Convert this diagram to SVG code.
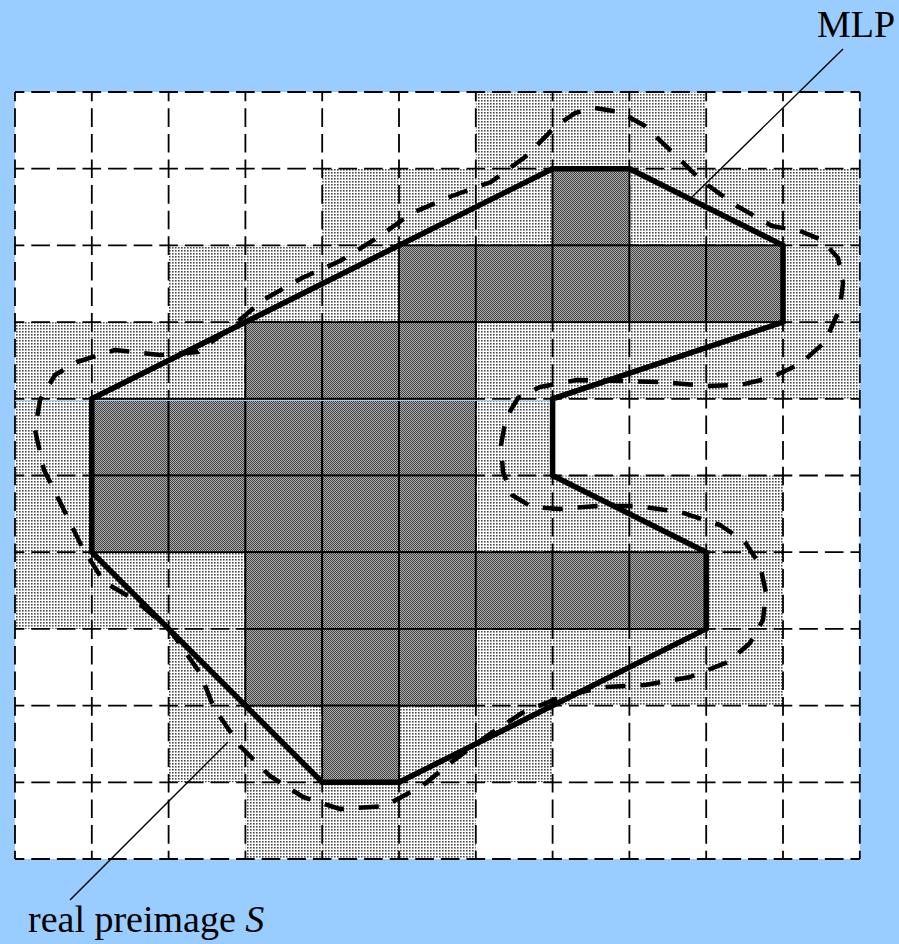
<svg xmlns="http://www.w3.org/2000/svg" width="899" height="944" viewBox="0 0 899 944">
<defs>
<pattern id="lt" width="3" height="3" patternUnits="userSpaceOnUse"><rect width="3" height="3" fill="#ffffff"/><rect x="1" y="1" width="1.6" height="1.6" fill="#4a4a4a"/></pattern>
<pattern id="dk" width="2" height="2" patternUnits="userSpaceOnUse"><rect width="2" height="2" fill="#b0b0b0"/><rect width="1" height="1" fill="#404040"/><rect x="1" y="1" width="1" height="1" fill="#404040"/></pattern>
<style>
.l{fill:url(#lt);stroke:none}
.d{fill:url(#dk);stroke:#000;stroke-width:1.8}
.g line{stroke:#000;stroke-width:1.8;stroke-dasharray:18.6 7;stroke-dashoffset:9.3}
.lbl{font-family:"Liberation Serif","Times New Roman",serif;font-size:38px;fill:#000}
.lead{stroke:#000;stroke-width:1.4;fill:none}
</style>
</defs>
<rect width="899" height="944" fill="#99ccff"/>
<rect x="15" y="92" width="844.8" height="767" fill="#ffffff"/>
<g id="light-cells">
<rect class="l" x="475.8" y="92" width="230.4" height="76.7"/>
<rect class="l" x="322.2" y="168.7" width="230.4" height="76.7"/>
<rect class="l" x="629.4" y="168.7" width="230.4" height="76.7"/>
<rect class="l" x="168.6" y="245.4" width="230.4" height="76.7"/>
<rect class="l" x="783" y="245.4" width="76.8" height="76.7"/>
<rect class="l" x="15" y="322.1" width="230.4" height="76.7"/>
<rect class="l" x="475.8" y="322.1" width="384" height="76.7"/>
<rect class="l" x="15" y="398.8" width="76.8" height="76.7"/>
<rect class="l" x="475.8" y="398.8" width="76.8" height="76.7"/>
<rect class="l" x="15" y="475.5" width="76.8" height="76.7"/>
<rect class="l" x="475.8" y="475.5" width="307.2" height="76.7"/>
<rect class="l" x="15" y="552.2" width="230.4" height="76.7"/>
<rect class="l" x="706.2" y="552.2" width="76.8" height="76.7"/>
<rect class="l" x="168.6" y="628.9" width="76.8" height="76.7"/>
<rect class="l" x="475.8" y="628.9" width="307.2" height="76.7"/>
<rect class="l" x="168.6" y="705.6" width="153.6" height="76.7"/>
<rect class="l" x="399" y="705.6" width="153.6" height="76.7"/>
<rect class="l" x="245.4" y="782.3" width="230.4" height="76.7"/>
</g>
<g id="grid" class="g">
<line x1="15" y1="92" x2="859.8" y2="92"/>
<line x1="15" y1="168.7" x2="859.8" y2="168.7"/>
<line x1="15" y1="245.4" x2="859.8" y2="245.4"/>
<line x1="15" y1="322.1" x2="859.8" y2="322.1"/>
<line x1="15" y1="398.8" x2="859.8" y2="398.8"/>
<line x1="15" y1="475.5" x2="859.8" y2="475.5"/>
<line x1="15" y1="552.2" x2="859.8" y2="552.2"/>
<line x1="15" y1="628.9" x2="859.8" y2="628.9"/>
<line x1="15" y1="705.6" x2="859.8" y2="705.6"/>
<line x1="15" y1="782.3" x2="859.8" y2="782.3"/>
<line x1="15" y1="859" x2="859.8" y2="859"/>
<line x1="15" y1="92" x2="15" y2="859"/>
<line x1="91.8" y1="92" x2="91.8" y2="859"/>
<line x1="168.6" y1="92" x2="168.6" y2="859"/>
<line x1="245.4" y1="92" x2="245.4" y2="859"/>
<line x1="322.2" y1="92" x2="322.2" y2="859"/>
<line x1="399" y1="92" x2="399" y2="859"/>
<line x1="475.8" y1="92" x2="475.8" y2="859"/>
<line x1="552.6" y1="92" x2="552.6" y2="859"/>
<line x1="629.4" y1="92" x2="629.4" y2="859"/>
<line x1="706.2" y1="92" x2="706.2" y2="859"/>
<line x1="783" y1="92" x2="783" y2="859"/>
<line x1="859.8" y1="92" x2="859.8" y2="859"/>
</g>
<g id="dark-cells">
<rect class="d" x="552.6" y="168.7" width="76.8" height="76.7"/>
<rect class="d" x="399" y="245.4" width="76.8" height="76.7"/>
<rect class="d" x="475.8" y="245.4" width="76.8" height="76.7"/>
<rect class="d" x="552.6" y="245.4" width="76.8" height="76.7"/>
<rect class="d" x="629.4" y="245.4" width="76.8" height="76.7"/>
<rect class="d" x="706.2" y="245.4" width="76.8" height="76.7"/>
<rect class="d" x="245.4" y="322.1" width="76.8" height="76.7"/>
<rect class="d" x="322.2" y="322.1" width="76.8" height="76.7"/>
<rect class="d" x="399" y="322.1" width="76.8" height="76.7"/>
<rect class="d" x="91.8" y="398.8" width="76.8" height="76.7"/>
<rect class="d" x="168.6" y="398.8" width="76.8" height="76.7"/>
<rect class="d" x="245.4" y="398.8" width="76.8" height="76.7"/>
<rect class="d" x="322.2" y="398.8" width="76.8" height="76.7"/>
<rect class="d" x="399" y="398.8" width="76.8" height="76.7"/>
<rect class="d" x="91.8" y="475.5" width="76.8" height="76.7"/>
<rect class="d" x="168.6" y="475.5" width="76.8" height="76.7"/>
<rect class="d" x="245.4" y="475.5" width="76.8" height="76.7"/>
<rect class="d" x="322.2" y="475.5" width="76.8" height="76.7"/>
<rect class="d" x="399" y="475.5" width="76.8" height="76.7"/>
<rect class="d" x="245.4" y="552.2" width="76.8" height="76.7"/>
<rect class="d" x="322.2" y="552.2" width="76.8" height="76.7"/>
<rect class="d" x="399" y="552.2" width="76.8" height="76.7"/>
<rect class="d" x="475.8" y="552.2" width="76.8" height="76.7"/>
<rect class="d" x="552.6" y="552.2" width="76.8" height="76.7"/>
<rect class="d" x="629.4" y="552.2" width="76.8" height="76.7"/>
<rect class="d" x="245.4" y="628.9" width="76.8" height="76.7"/>
<rect class="d" x="322.2" y="628.9" width="76.8" height="76.7"/>
<rect class="d" x="399" y="628.9" width="76.8" height="76.7"/>
<rect class="d" x="322.2" y="705.6" width="76.8" height="76.7"/>
</g>
<rect x="15" y="400" width="537.6" height="1" fill="#99ccff"/>
<g id="preimage-S">
<path d="M595,108 L620,112 L645,126 L672,152 L702,181 L737,206 L772,226 L800,231 L822,240 L838,258 L843,283 L840,308 L825,342 L800,364 L770,378 L740,385 L707,386 L663,382 L620,381 L577,380 L540,387 L518,398 L506,418 L501,445 L503,472 L512,495 L532,507 L560,509 L597,506 L637,506 L680,512 L720,525 L745,542 L760,565 L766,593 L763,620 L750,643 L728,662 L690,677 L645,685 L605,687 L563,696 L522,713 L487,736 L453,761 L422,786 L385,806 L340,809 L303,797 L270,776 L240,746 L214,708 L200,673 L170,630 L135,600 L104,582 L82,547 L63,508 L44,470 L35,430 L40,400 L55,375 L77,362 L115,350 L160,355 L198,352 L228,330 L263,300 L302,278 L340,261 L377,238 L412,213 L452,196 L491,182 L525,157 L555,127 L575,113 Z" fill="none" stroke="#000" stroke-width="4.5" stroke-dasharray="20 15" stroke-linejoin="round"/>
</g>
<g id="MLP-polygon">
<path d="M552.6,168.7 L629.4,168.7 L783,245.4 L783,322.1 L552.6,398.8 L552.6,475.5 L706.2,552.2 L706.2,628.9 L399,782.3 L322.2,782.3 L91.8,552.2 L91.8,398.8 Z" fill="none" stroke="#000" stroke-width="5.5" stroke-linejoin="miter"/>
</g>
<g id="label-MLP">
<line class="lead" x1="843" y1="49" x2="692" y2="197"/>
<text class="lbl" x="817" y="37">MLP</text>
</g>
<g id="label-S">
<line class="lead" x1="70" y1="900" x2="228" y2="742"/>
<text class="lbl" x="28" y="932">real preimage <tspan font-style="italic">S</tspan></text>
</g>
</svg>
